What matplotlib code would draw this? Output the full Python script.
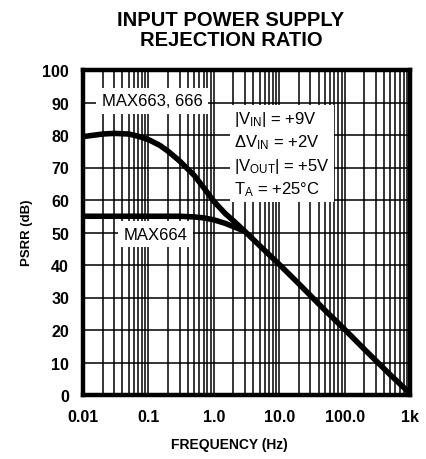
import matplotlib
matplotlib.use("Agg")
import matplotlib.pyplot as plt
from matplotlib.ticker import FixedLocator, FixedFormatter, LogLocator, NullFormatter

plt.rcParams['mathtext.fontset'] = 'custom'
plt.rcParams['mathtext.rm'] = 'Liberation Sans'
plt.rcParams['mathtext.it'] = 'Liberation Sans:italic'
plt.rcParams['mathtext.bf'] = 'Liberation Sans:bold'

# ---- data ----
freq_663 = [0.01, 0.02, 0.03, 0.05, 0.07, 0.1, 0.15, 0.2, 0.3, 0.5, 0.7, 1.0,
            1.5, 2.0, 3.0, 5.0, 10, 20, 50, 100, 200, 500, 1000]
psrr_663 = [79.5, 80.3, 80.5, 80.3, 79.6, 78.6, 76.8, 75.0, 72.0, 67.6, 63.8, 59.6,
            55.8, 53.6, 50.3, 46.0, 40.2, 34.2, 26.1, 20.2, 14.1, 6.2, 0.5]
freq_664 = [0.01, 0.1, 0.3, 0.5, 0.7, 1.0, 1.5, 2.0, 2.5, 3.0]
psrr_664 = [55.0, 55.0, 55.0, 54.8, 54.5, 53.9, 52.8, 51.8, 51.0, 50.3]

x_ticks = [0.01, 0.1, 1.0, 10.0, 100.0, 1000.0]
x_tick_labels = ["0.01", "0.1", "1.0", "10.0", "100.0", "1k"]
y_ticks = [0, 10, 20, 30, 40, 50, 60, 70, 80, 90, 100]

lab_font = ['Liberation Sans', 'DejaVu Sans']

fig = plt.figure(figsize=(4.27, 4.60), dpi=100)
ax = fig.add_axes([83/427, 1 - 396/460, (410-83)/427, (396-71)/460])

ax.set_xscale('log')
ax.set_xlim(0.01, 1000)
ax.set_ylim(0, 100)

ax.xaxis.set_major_locator(FixedLocator(x_ticks))
ax.xaxis.set_major_formatter(FixedFormatter(x_tick_labels))
ax.xaxis.set_minor_locator(LogLocator(base=10, subs=range(2, 10)))
ax.xaxis.set_minor_formatter(NullFormatter())
ax.yaxis.set_major_locator(FixedLocator(y_ticks))

ax.grid(True, which='both', axis='x', color='black', lw=1.1)
ax.grid(True, which='major', axis='y', color='black', lw=1.1)
ax.set_axisbelow(True)
ax.tick_params(which='both', length=0)
ax.tick_params(axis='y', pad=10)
ax.tick_params(axis='x', pad=10)
for lab in ax.get_xticklabels() + ax.get_yticklabels():
    lab.set_family(lab_font)
    lab.set_fontweight('bold')
    lab.set_fontsize(11.5)

for s in ax.spines.values():
    s.set_linewidth(3.2)
    s.set_color('black')

ax.plot(freq_663, psrr_663, color='black', lw=4, solid_capstyle='butt', zorder=5)
ax.plot(freq_664, psrr_664, color='black', lw=4, solid_capstyle='butt', zorder=5)

ax.text(0.115, 90.5, "MAX663, 666", ha='center', va='center', fontsize=12,
        family='Liberation Sans', bbox=dict(facecolor='white', edgecolor='none', pad=4), zorder=4)
ax.text(0.128, 49.5, "MAX664", ha='center', va='center', fontsize=12,
        family='Liberation Sans', bbox=dict(facecolor='white', edgecolor='none', pad=4), zorder=4)

cond = ("$\\mathrm{|V_{IN}|}$ = +9V\n"
        "Δ$\\mathrm{V_{IN}}$ = +2V\n"
        "$\\mathrm{|V_{OUT}|}$ = +5V\n"
        "$\\mathrm{T_{A}}$ = +25°C")
ax.text(2.05, 88.0, cond, ha='left', va='top', fontsize=12, linespacing=1.32,
        family='Liberation Sans', bbox=dict(facecolor='white', edgecolor='none', pad=3), zorder=4)

fig.text(231/427, 1 - 20/460, "INPUT POWER SUPPLY", ha='center', va='center',
         fontsize=14.5, fontweight='bold', family='Liberation Sans')
fig.text(231/427, 1 - 41/460, "REJECTION RATIO", ha='center', va='center',
         fontsize=14.5, fontweight='bold', family='Liberation Sans')
fig.text(27/427, 1 - 233/460, "PSRR (dB)", rotation=90, ha='center', va='center',
         fontsize=9.5, fontweight='bold', family=lab_font)
fig.text(229/427, 1 - 445/460, "FREQUENCY (Hz)", ha='center', va='center',
         fontsize=10, fontweight='bold', family=lab_font)

fig.savefig("out.png", dpi=100, facecolor='white')
